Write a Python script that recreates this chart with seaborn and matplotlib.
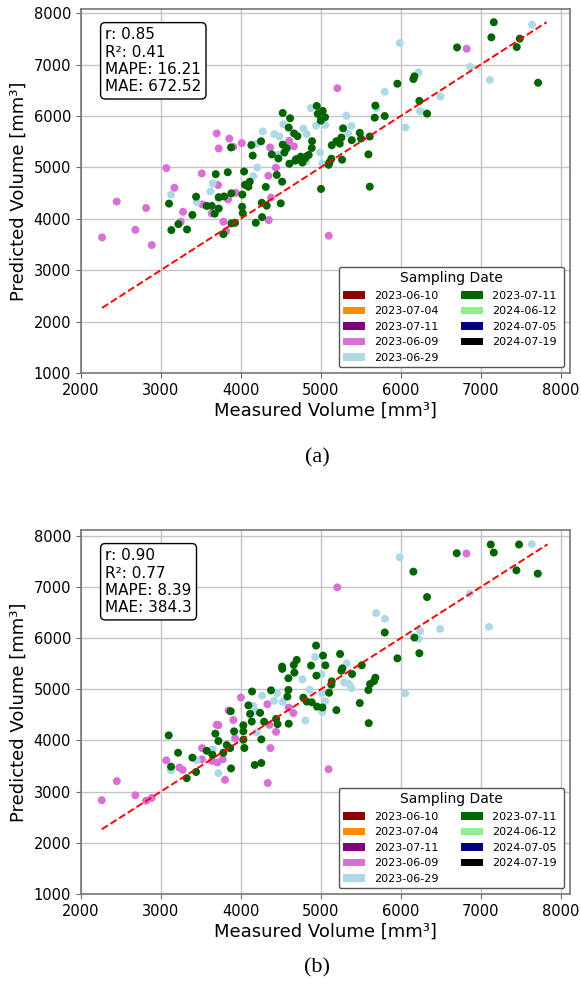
import numpy as np
import pandas as pd
import matplotlib
matplotlib.use("Agg")
import matplotlib.pyplot as plt
from matplotlib.patches import Patch
import seaborn as sns

# legend entries (all sampling dates of the dataset)
legend_dates = ["2023-06-10", "2023-07-04", "2023-07-11", "2023-06-09", "2023-06-29",
                "2023-07-11 ", "2024-06-12", "2024-07-05", "2024-07-19"]
legend_colors = ["darkred", "darkorange", "purple", "orchid", "lightblue",
                 "darkgreen", "lightgreen", "navy", "black"]

# ---- panel (a) ----
a_0609_x = [2267, 2450, 2683, 2817, 2888, 3071, 3171, 3250, 3279, 3513, 3521, 3638, 3700, 3717,
            3725, 3783, 3817, 3842, 3858, 3908, 3938, 4013, 4350, 4346, 4367, 4379, 4440, 4605,
            4665, 5100, 5208, 6825]
a_0609_y = [3638, 4335, 3786, 4210, 3489, 4986, 4603, 3942, 4136, 4882, 4278, 4104, 5660, 4656,
            5368, 3942, 3761, 4375, 5560, 5397, 4505, 5472, 3974, 4836, 5388, 4412, 4995, 5515,
            5410, 3670, 6540, 7307]
a_0629_x = [3129, 3450, 3621, 3650, 3725, 4158, 4200, 4208, 4275, 4421, 4463, 4483, 4533, 4783,
            4817, 4825, 4875, 4942, 4992, 5021, 5054, 5321, 5342, 5383, 5696, 5800, 5988, 6058,
            6221, 6242, 6496, 6867, 7113, 7642]
a_0629_y = [4470, 4327, 4534, 4688, 4390, 4830, 5459, 4995, 5699, 5647, 5245, 5601, 5838, 5754,
            5118, 5647, 6152, 5812, 5290, 5075, 5825, 6005, 5659, 5803, 6149, 6470, 7418, 5777,
            6849, 6090, 6378, 6954, 6700, 7778]
a_0711_x = [3104, 3133, 3221, 3329, 3396, 3442, 3575, 3638, 3675, 3688, 3725, 3725, 3783, 3792,
            3838, 3879, 3883, 3883, 3929, 4017, 4021, 4025, 4042, 4054, 4096, 4113, 4133, 4150,
            4188, 4254, 4263, 4267, 4313, 4325, 4388, 4450, 4471, 4500, 4517, 4525, 4525, 4546,
            4575, 4600, 4608, 4617, 4667, 4683, 4692, 4709, 4750, 4771, 4804, 4825, 4850, 4888,
            4892, 4950, 4963, 5000, 5004, 5025, 5054, 5100, 5108, 5133, 5138, 5196, 5238, 5258,
            5267, 5279, 5388, 5488, 5504, 5596, 5613, 5613, 5675, 5683, 5800, 5958, 6158, 6171,
            6233, 6329, 6704, 7133, 7163, 7450, 7488, 7717]
a_0711_y = [4295, 3780, 3896, 3793, 4075, 4430, 4250, 4250, 4100, 4868, 4200, 4420, 3702, 4434,
            4905, 5388, 4495, 3909, 3922, 4233, 4470, 4110, 4919, 4660, 4625, 4722, 5434, 5229,
            3922, 5508, 4311, 4032, 4620, 4255, 5252, 4853, 5172, 4300, 4722, 6058, 5442, 5288,
            5372, 5774, 5070, 5955, 5660, 5130, 5159, 5608, 5208, 5094, 5176, 5217, 5241, 5377,
            5510, 6195, 6040, 5910, 4580, 6098, 5975, 5050, 5094, 5168, 5430, 5508, 5462, 5580,
            5149, 5760, 5528, 5672, 5561, 5253, 5600, 4625, 5966, 6202, 5999, 6627, 6718, 6770,
            6293, 6045, 7333, 7529, 7823, 7340, 7503, 6646]

# ---- panel (b) ----
b_0609_x = [2263, 2452, 2683, 2817, 2888, 3069, 3233, 3275, 3515, 3517, 3640, 3700, 3708, 3720,
            3775, 3804, 3848, 3908, 3929, 4002, 4333, 4338, 4358, 4371, 4442, 4600, 4658, 5098,
            5208, 6821]
b_0609_y = [2833, 3205, 2930, 2823, 2876, 3612, 3471, 3425, 3632, 3850, 3600, 4308, 3570, 4300,
            3632, 3231, 4588, 4400, 4042, 4840, 4708, 3169, 4305, 3851, 4169, 4644, 4536, 3437,
            6993, 7653]
b_0629_x = [3129, 3450, 3650, 3721, 4158, 4188, 4200, 4267, 4417, 4454, 4525, 4771, 4808, 4863,
            4929, 5010, 5013, 5021, 5054, 5292, 5325, 5354, 5383, 5692, 5804, 5988, 6054, 6221,
            6242, 6492, 6863, 7104, 7638]
b_0629_y = [3414, 3612, 3824, 3362, 4670, 4572, 4162, 4877, 4776, 4923, 4753, 5196, 4390, 4988,
            5632, 5290, 4926, 4560, 4765, 5135, 5508, 5103, 5024, 6489, 6378, 7581, 4920, 5986,
            6136, 6182, 6869, 6221, 7836]
b_0711_x = [3100, 3129, 3217, 3325, 3396, 3442, 3575, 3646, 3683, 3721, 3783, 3825, 3867, 3875,
            3879, 3917, 4033, 4033, 4033, 4046, 4096, 4117, 4138, 4142, 4175, 4242, 4258, 4258,
            4292, 4379, 4442, 4460, 4517, 4520, 4583, 4596, 4596, 4600, 4663, 4671, 4700, 4783,
            4825, 4879, 4888, 4942, 4946, 4954, 5021, 5029, 5058, 5104, 5133, 5138, 5196, 5242,
            5258, 5271, 5392, 5488, 5513, 5596, 5600, 5617, 5667, 5683, 5800, 5958, 6158, 6171,
            6233, 6329, 6700, 7125, 7163, 7446, 7479, 7713]
b_0711_y = [4100, 3488, 3760, 3263, 3665, 3384, 3798, 3720, 4133, 3990, 3760, 3910, 3850, 4571,
            3454, 4178, 4298, 4180, 4015, 3853, 4686, 4520, 4370, 4958, 3521, 4540, 3560, 4022,
            4367, 4981, 4422, 4320, 5444, 5400, 4858, 4988, 5216, 4328, 5477, 5327, 5575, 4838,
            4760, 5464, 4747, 5855, 5268, 4662, 4645, 5659, 5469, 4933, 5090, 5155, 4593, 5691,
            5364, 5410, 5299, 4732, 5469, 4985, 4338, 5103, 5162, 5227, 6110, 5606, 7300, 6012,
            5705, 6803, 7660, 7830, 7673, 7326, 7830, 7261]

stats_a = "r: 0.85\nR²: 0.41\nMAPE: 16.21\nMAE: 672.52"
stats_b = "r: 0.90\nR²: 0.77\nMAPE: 8.39\nMAE: 384.3"


def make_frame(x09, y09, x29, y29, x11, y11):
    parts = []
    for xs, ys, d in [(x09, y09, "2023-06-09"), (x29, y29, "2023-06-29"), (x11, y11, "2023-07-11")]:
        parts.append(pd.DataFrame({"Measured": xs, "Predicted": ys, "Date": d}))
    return pd.concat(parts, ignore_index=True)


palette = {"2023-06-09": "orchid", "2023-06-29": "lightblue", "2023-07-11": "darkgreen"}


def draw_panel(ax, data, stats, ytop):
    sns.scatterplot(data=data, x="Measured", y="Predicted", hue="Date", palette=palette,
                    s=33, linewidth=0, legend=False, ax=ax, zorder=3)
    lo = min(data["Measured"].min(), data["Predicted"].min())
    hi = max(data["Measured"].max(), data["Predicted"].max())
    ax.plot([lo, hi], [lo, hi], "r--", lw=1.4, zorder=4)
    ax.set_xlim(2000, 8116)
    ax.set_ylim(1000, ytop)
    ax.set_xticks(range(2000, 8001, 1000))
    ax.set_yticks(range(1000, 8001, 1000))
    ax.grid(True, color="#c4c4c4", lw=1.0)
    ax.set_axisbelow(True)
    ax.tick_params(labelsize=10.5, color="#666666")
    for sp in ax.spines.values():
        sp.set_color("#777777")
        sp.set_linewidth(1.2)
    ax.set_xlabel("Measured Volume [mm³]", fontsize=13, labelpad=3)
    ax.set_ylabel("Predicted Volume [mm³]", fontsize=13)
    ax.text(0.05, 0.95, stats, transform=ax.transAxes, va="top", ha="left", fontsize=11,
            bbox=dict(boxstyle="round", facecolor="white", edgecolor="black"), zorder=5)
    handles = [Patch(facecolor=c, label=l) for c, l in zip(legend_colors, legend_dates)]
    leg = ax.legend(handles=handles, title="Sampling Date", loc="lower right", ncol=2,
                    fontsize=8, title_fontsize=10, framealpha=1)
    leg.get_frame().set_edgecolor("#555555")
    leg.set_zorder(6)


fig = plt.figure(figsize=(5.81, 9.9), dpi=100)
ax1 = fig.add_axes([0.1389, 0.6232, 0.8422, 0.3677])
ax2 = fig.add_axes([0.1389, 0.0970, 0.8422, 0.3677])

draw_panel(ax1, make_frame(a_0609_x, a_0609_y, a_0629_x, a_0629_y, a_0711_x, a_0711_y), stats_a, 8080)
draw_panel(ax2, make_frame(b_0609_x, b_0609_y, b_0629_x, b_0629_y, b_0711_x, b_0711_y), stats_b, 8115)

fig.text(317 / 581, 1 - 458 / 990, "(a)", ha="center", va="center",
         family="Liberation Serif", fontsize=16)
fig.text(317 / 581, 1 - 968 / 990, "(b)", ha="center", va="center",
         family="Liberation Serif", fontsize=16)

fig.savefig("out.png", dpi=100)
